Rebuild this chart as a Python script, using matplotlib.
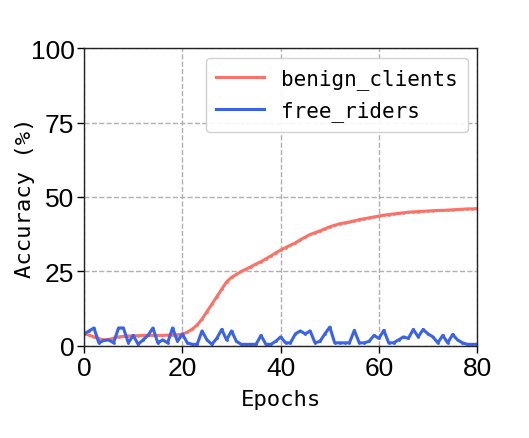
import numpy as np
import matplotlib
matplotlib.use("Agg")
import matplotlib.pyplot as plt

### data
epochs = np.arange(0, 81)

benign_clients = [4.0, 3.6, 3.0, 2.4, 2.0, 2.1, 2.6, 3.0, 3.2, 3.3,
                  3.4, 3.4, 3.5, 3.5, 3.5, 3.5, 3.5, 3.6, 3.6, 3.7,
                  3.9, 4.6, 5.6, 7.0, 9.0, 11.5, 14.0, 16.5, 19.0, 21.5,
                  23.0, 24.0, 25.0, 25.8, 26.6, 27.5, 28.3, 29.2, 30.2, 31.2,
                  32.2, 33.0, 33.8, 34.6, 35.6, 36.5, 37.4, 38.0, 38.6, 39.3,
                  40.0, 40.5, 41.0, 41.3, 41.6, 42.0, 42.4, 42.7, 43.0, 43.3,
                  43.6, 43.9, 44.1, 44.3, 44.5, 44.7, 44.9, 45.0, 45.1, 45.2,
                  45.3, 45.4, 45.5, 45.5, 45.6, 45.7, 45.8, 45.9, 46.0, 46.0,
                  46.1]

free_riders = [4.0, 5.0, 6.0, 1.0, 1.8, 2.0, 1.0, 6.0, 6.0, 1.0,
               3.5, 0.5, 2.0, 3.5, 6.0, 1.0, 2.0, 1.0, 6.0, 1.5,
               4.0, 1.0, 0.5, 0.5, 5.0, 2.0, 0.5, 2.5, 5.5, 2.0,
               5.0, 1.5, 0.5, 0.5, 0.5, 0.5, 3.5, 0.5, 0.5, 1.5,
               3.0, 1.0, 1.0, 4.0, 5.0, 4.0, 5.0, 1.0, 1.5, 4.0,
               6.3, 1.0, 1.0, 1.0, 1.0, 5.2, 1.0, 1.0, 1.5, 3.5,
               2.5, 5.2, 1.0, 1.0, 2.0, 3.0, 2.5, 5.5, 3.0, 5.5,
               4.0, 3.0, 1.0, 3.5, 1.0, 3.8, 2.0, 1.0, 0.5, 0.5,
               0.5]

red = '#FA7268'
blue = '#3A63E6'
lblfont = 'DejaVu Sans Mono'

fig = plt.figure(figsize=(5.29, 4.39), dpi=100)
ax = fig.add_axes([0.159, 0.210, 0.743, 0.678])

ax.plot(epochs, benign_clients, color=red, lw=2.2, marker='.', markersize=2, label='benign_clients')
ax.plot(epochs, free_riders, color=blue, lw=2.2, marker='.', markersize=2, label='free_riders')

ax.set_xlim(0, 80)
ax.set_ylim(0, 100)
ax.set_xticks([0, 20, 40, 60, 80])
ax.set_yticks([0, 25, 50, 75, 100])
ax.grid(True, linestyle='--', color='#b0b0b0', lw=1)

ax.set_xlabel('Epochs', fontsize=16, family=lblfont, labelpad=7)
ax.set_ylabel('Accuracy (%)', fontsize=16, family=lblfont, labelpad=-3)

for tick in ax.get_xticklabels() + ax.get_yticklabels():
    tick.set_fontname('Liberation Sans')
    tick.set_fontsize(19)
ax.tick_params(direction='out', length=5, width=1, pad=2, colors='black')
plt.setp(ax.spines.values(), linewidth=1, color='#222222')

ax.legend(loc='upper right', prop={'family': lblfont, 'size': 15}, framealpha=0.9,
          handlelength=2.3, labelspacing=0.55, borderaxespad=0.45, borderpad=0.5)

fig.savefig('out.png', dpi=100)
